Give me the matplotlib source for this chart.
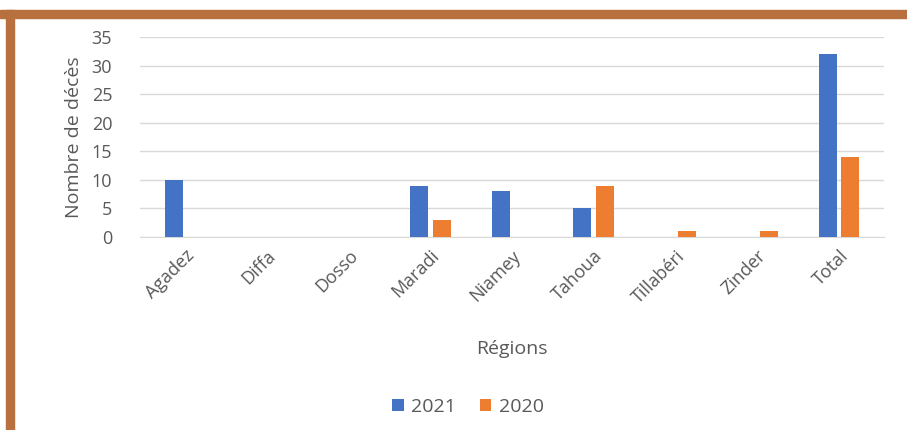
import numpy as np
import matplotlib.pyplot as plt
from matplotlib.patches import Rectangle

regions = ["Agadez", "Diffa", "Dosso", "Maradi", "Niamey", "Tahoua", "Tillabéri", "Zinder", "Total"]
deaths_2021 = [10, 0, 0, 9, 8, 5, 0, 0, 32]
deaths_2020 = [0, 0, 0, 3, 0, 9, 1, 1, 14]

blue = "#4472C4"
orange = "#ED7D31"
text_gray = "#595959"

plt.rcParams["font.family"] = ["Open Sans", "DejaVu Sans"]

fig = plt.figure(figsize=(9.07, 4.30), dpi=100)
fig.patch.set_facecolor("white")

# brown frame (top and left only visible)
fig.patches.append(Rectangle((0, 1 - 18 / 430), 1, 8 / 430, transform=fig.transFigure,
                             color="#B8703E", zorder=0))
fig.patches.append(Rectangle((6 / 907, 0), 8 / 907, 1 - 10 / 430, transform=fig.transFigure,
                             color="#B8703E", zorder=0))

ax = fig.add_axes([140 / 907, 193 / 430, 744 / 907, 200 / 430])
x = np.arange(len(regions))
w = 0.22
ax.bar(x - 0.14, deaths_2021, w, color=blue, label="2021", zorder=3)
ax.bar(x + 0.14, deaths_2020, w, color=orange, label="2020", zorder=3)

ax.set_xlim(-0.55, len(regions) - 0.45)
ax.set_ylim(0, 35)
ax.set_yticks(range(0, 36, 5))
ax.yaxis.grid(True, color="#D9D9D9", linewidth=1)
ax.set_axisbelow(True)
for s in ["top", "right", "left"]:
    ax.spines[s].set_visible(False)
ax.spines["bottom"].set_color("#D9D9D9")
ax.tick_params(axis="both", length=0, colors=text_gray, labelsize=13)
ax.tick_params(axis="y", pad=20)
ax.tick_params(axis="x", pad=7)
ax.set_xticks(x)
ax.set_xticklabels(regions, rotation=45, ha="right", rotation_mode="anchor")
ax.set_ylabel("Nombre de décès", color=text_gray, fontsize=14, labelpad=6)
ax.set_xlabel("Régions", color=text_gray, fontsize=14, labelpad=24)

ax.legend(loc="center", bbox_to_anchor=(468 / 907, 23 / 430), bbox_transform=fig.transFigure,
          ncol=2, frameon=False, fontsize=14, handlelength=0.6, handleheight=0.6,
          columnspacing=1.2, handletextpad=0.4, labelcolor=text_gray)

fig.savefig("out.png", dpi=100)
